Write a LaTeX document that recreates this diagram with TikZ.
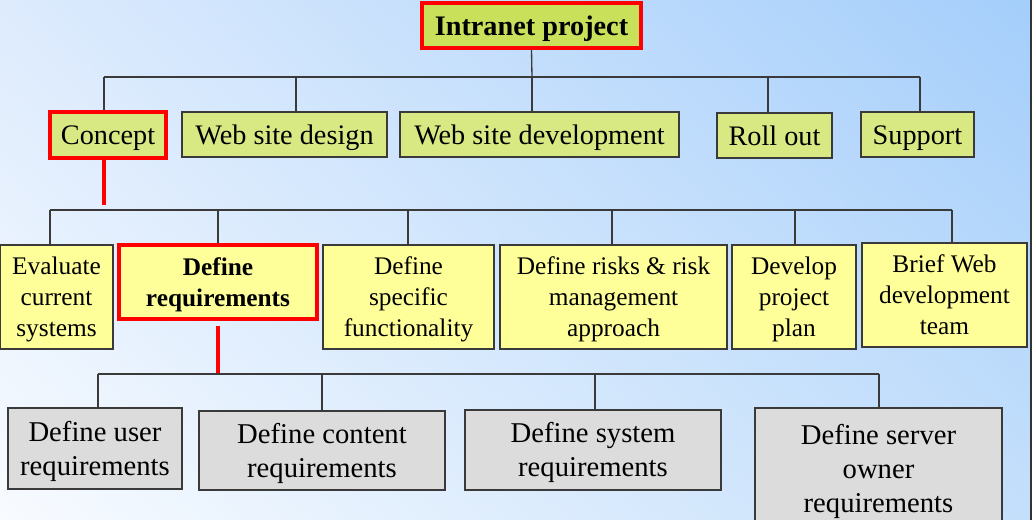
\documentclass[tikz,border=0pt]{standalone}
\usepackage{fontspec}
\setmainfont{Liberation Serif}
\usetikzlibrary{shadings}
\definecolor{bgUL}{HTML}{DDEBFD}
\definecolor{bgUR}{HTML}{A4CEFB}
\definecolor{bgLL}{HTML}{F8FBFF}
\definecolor{bgLR}{HTML}{C4DFFB}
\definecolor{topfill}{HTML}{C9E05A}
\definecolor{lvtwo}{HTML}{D8E882}
\definecolor{lvthree}{HTML}{FFFF99}
\definecolor{lvfour}{HTML}{DCDCDC}
\definecolor{edge}{HTML}{3A3A3A}
\definecolor{hot}{HTML}{FF0000}
\tikzset{
  box/.style={draw=edge, line width=1.1pt, inner sep=0pt, align=center, text=black},
  topbox/.style={box, fill=topfill, draw=hot, line width=2.6pt, font=\fontsize{21.2}{25}\selectfont\bfseries, text height=18.9pt, text depth=4.6pt},
  twobox/.style={box, fill=lvtwo, font=\fontsize{21.2}{25}\selectfont, text height=18.9pt, text depth=4.6pt},
  threebox/.style={box, fill=lvthree, font=\fontsize{19}{23.25}\selectfont, text depth=4.1pt},
  threeA/.style={threebox, text height=63.43pt},
  threeB/.style={threebox, text height=40.18pt},
  fourbox/.style={box, fill=lvfour, font=\fontsize{21.5}{25.5}\selectfont, text depth=4.64pt},
  fourA/.style={fourbox, text height=44.66pt},
  fourB/.style={fourbox, text height=70.16pt},
  hl/.style={draw=hot, line width=2.6pt},
  conn/.style={draw=edge, line width=1pt},
  redconn/.style={draw=hot, line width=2.6pt},
}
\begin{document}
\begin{tikzpicture}[x=0.75pt,y=-0.75pt]
\useasboundingbox (0,0) rectangle (1032,520);
\shade[upper left=bgUL, upper right=bgUR, lower left=bgLL, lower right=bgLR] (0,0) rectangle (1032,520);

% level 1
\node[topbox, minimum width=164.25pt, minimum height=33.75pt] (intranet) at (531.5,25.5) {Intranet project};

% level 2
\node[twobox, hl, minimum width=87pt, minimum height=34.5pt] (concept) at (108,135) {Concept};
\node[twobox, minimum width=153.75pt, minimum height=33.75pt] (wsd) at (284.5,134.5) {Web site design};
\node[twobox, minimum width=209.25pt, minimum height=33.75pt] (wdev) at (539.5,134.5) {Web site development};
\node[twobox, minimum width=86.25pt, minimum height=33.75pt] (roll) at (774.5,135.5) {Roll out};
\node[twobox, minimum width=84.75pt, minimum height=33.75pt] (support) at (917.5,134.5) {Support};

% level 3
\node[threeA, minimum width=84.75pt, minimum height=78pt] (eval) at (56.5,297) {Evaluate\\current\\systems};
\node[threeB, hl, font=\fontsize{19}{23.25}\selectfont\bfseries, minimum width=148.5pt, minimum height=55.5pt] (defreq) at (218,282) {Define\\requirements};
\node[threeA, minimum width=128.25pt, minimum height=78pt] (spec) at (408.5,297) {Define\\specific\\functionality};
\node[threeA, minimum width=170.25pt, minimum height=78pt] (risk) at (613.5,297) {Define risks \& risk\\management\\approach};
\node[threeA, minimum width=93pt, minimum height=78pt] (plan) at (794,297) {Develop\\project\\plan};
\node[threeA, minimum width=123.75pt, minimum height=78pt] (brief) at (944.5,295) {Brief Web\\development\\team};

% level 4
\node[fourA, minimum width=130.5pt, minimum height=60.75pt] (user) at (95,448.5) {Define user\\requirements};
\node[fourA, minimum width=184.5pt, minimum height=59.25pt] (content) at (322,450.5) {Define content\\requirements};
\node[fourA, minimum width=192pt, minimum height=60pt] (system) at (593,450) {Define system\\requirements};
\node[fourB, minimum width=185.25pt, minimum height=91.5pt] (server) at (878.5,469) {Define server\\owner\\requirements};

% bus 1
\coordinate (b1a) at (104,77);
\coordinate (b1b) at (296,77);
\coordinate (b1c) at (532,77);
\coordinate (b1d) at (768,77);
\coordinate (b1e) at (920,77);
\draw[conn] (intranet.south) -- (b1c);
\draw[conn] (b1a) -- (b1e);
\draw[conn] (b1a) -- (b1a |- concept.north);
\draw[conn] (b1b) -- (b1b |- wsd.north);
\draw[conn] (b1c) -- (b1c |- wdev.north);
\draw[conn] (b1d) -- (b1d |- roll.north);
\draw[conn] (b1e) -- (b1e |- support.north);

% bus 2
\coordinate (r1) at (104,205);
\coordinate (b2a) at (50,210);
\coordinate (b2b) at (218,210);
\coordinate (b2c) at (408,210);
\coordinate (b2d) at (612,210);
\coordinate (b2e) at (795,210);
\coordinate (b2f) at (952,210);
\draw[redconn] (r1 |- concept.south) -- (r1);
\draw[conn] (b2a) -- (b2f);
\draw[conn] (b2a) -- (b2a |- eval.north);
\draw[conn] (b2b) -- (b2b |- defreq.north);
\draw[conn] (b2c) -- (b2c |- spec.north);
\draw[conn] (b2d) -- (b2d |- risk.north);
\draw[conn] (b2e) -- (b2e |- plan.north);
\draw[conn] (b2f) -- (b2f |- brief.north);

% bus 3
\coordinate (r2a) at (218,326);
\coordinate (r2b) at (218,373);
\coordinate (b3a) at (98,374);
\coordinate (b3b) at (322,374);
\coordinate (b3c) at (595,374);
\coordinate (b3d) at (879,374);
\draw[redconn] (r2a) -- (r2b);
\draw[conn] (b3a) -- (b3d);
\draw[conn] (b3a) -- (b3a |- user.north);
\draw[conn] (b3b) -- (b3b |- content.north);
\draw[conn] (b3c) -- (b3c |- system.north);
\draw[conn] (b3d) -- (b3d |- server.north);

% right edge strip
\fill[black!80] (1030,0) rectangle (1032,520);
\end{tikzpicture}
\end{document}
